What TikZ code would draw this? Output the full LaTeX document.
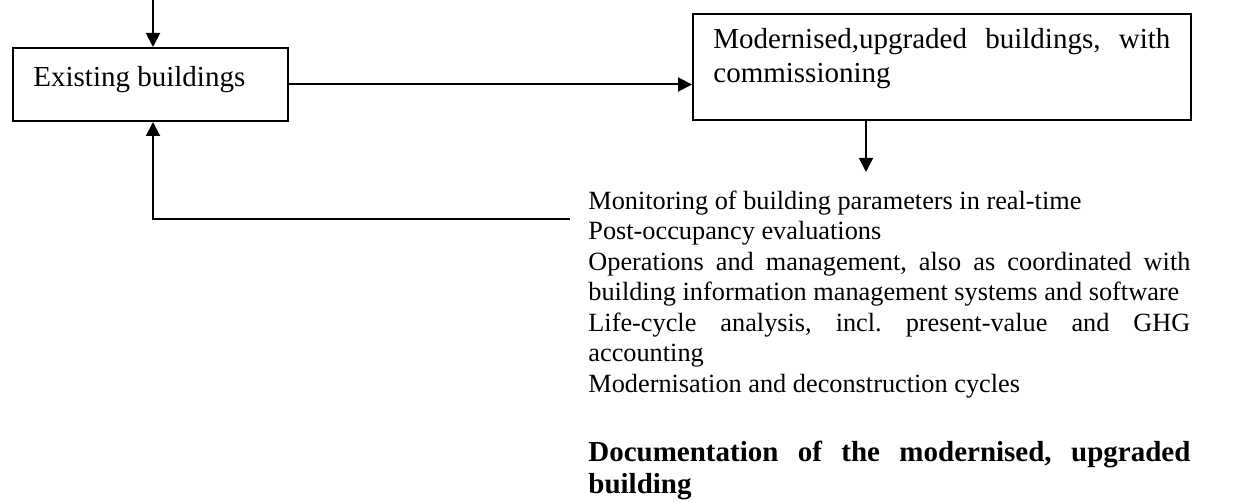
\documentclass[tikz,border=0pt]{standalone}
\usepackage{fontspec}
\setmainfont{Liberation Serif}
\usetikzlibrary{arrows.meta,calc}
\frenchspacing
\tikzset{
  box/.style={draw,line width=1pt,inner sep=0pt,anchor=north west},
  arr/.style={line width=1pt,-{Triangle[length=7pt,width=7pt]}},
  txt/.style={anchor=base west,inner sep=0pt,font=\fontsize{13.15pt}{15pt}\selectfont},
  btxt/.style={anchor=base west,inner sep=0pt,font=\fontsize{14.5pt}{17pt}\selectfont},
  hd/.style={anchor=base west,inner sep=0pt,font=\fontsize{14.5pt}{17pt}\selectfont\bfseries}
}
\newcommand{\jl}[2]{\makebox[#1][s]{#2}}
\begin{document}
\begin{tikzpicture}[x=0.5pt,y=-0.5pt]
\useasboundingbox (0,0) rectangle (1233,502);
% boxes
\node[box,minimum width=137.5pt,minimum height=36.5pt] (b1) at (12,47) {};
\node[box,minimum width=249pt,minimum height=53pt] (b2) at (692,13) {};
\node[btxt] (t1) at (33,87) {Existing buildings};
\node[btxt] (t2a) at (713,49) {\jl{228.5pt}{Modernised,upgraded buildings, with}};
\node[btxt] (t2b) at (713,83) {commissioning};
% block text
\node[txt] (l1) at (588,210) {Monitoring of building parameters in real-time};
\node[txt] (l2) at (588,240) {Post-occupancy evaluations};
\node[txt] (l3) at (588,270.5) {\jl{301pt}{Operations and management, also as coordinated with}};
\node[txt] (l4) at (588,301) {building information management systems and software};
\node[txt] (l5) at (588,331.5) {\jl{301pt}{Life-cycle analysis, incl. present-value and GHG}};
\node[txt] (l6) at (588,362) {accounting};
\node[txt] (l7) at (588,392.5) {Modernisation and deconstruction cycles};
\node[hd] (h1) at (588,462) {\jl{301pt}{Documentation of the modernised, upgraded}};
\node[hd] (h2) at (588,494) {building};
% connectors
\coordinate (top) at (153,0);
\coordinate (fb) at (570,219);
\coordinate (dn) at (866,172);
\draw[arr] (top) -- (top |- b1.north);
\draw[arr] (b1.east) -- (b1.east -| b2.west);
\draw[arr] (dn |- b2.south) -- (dn);
\draw[arr] (fb) -- (fb -| top) -- (top |- b1.south);
\end{tikzpicture}
\end{document}
